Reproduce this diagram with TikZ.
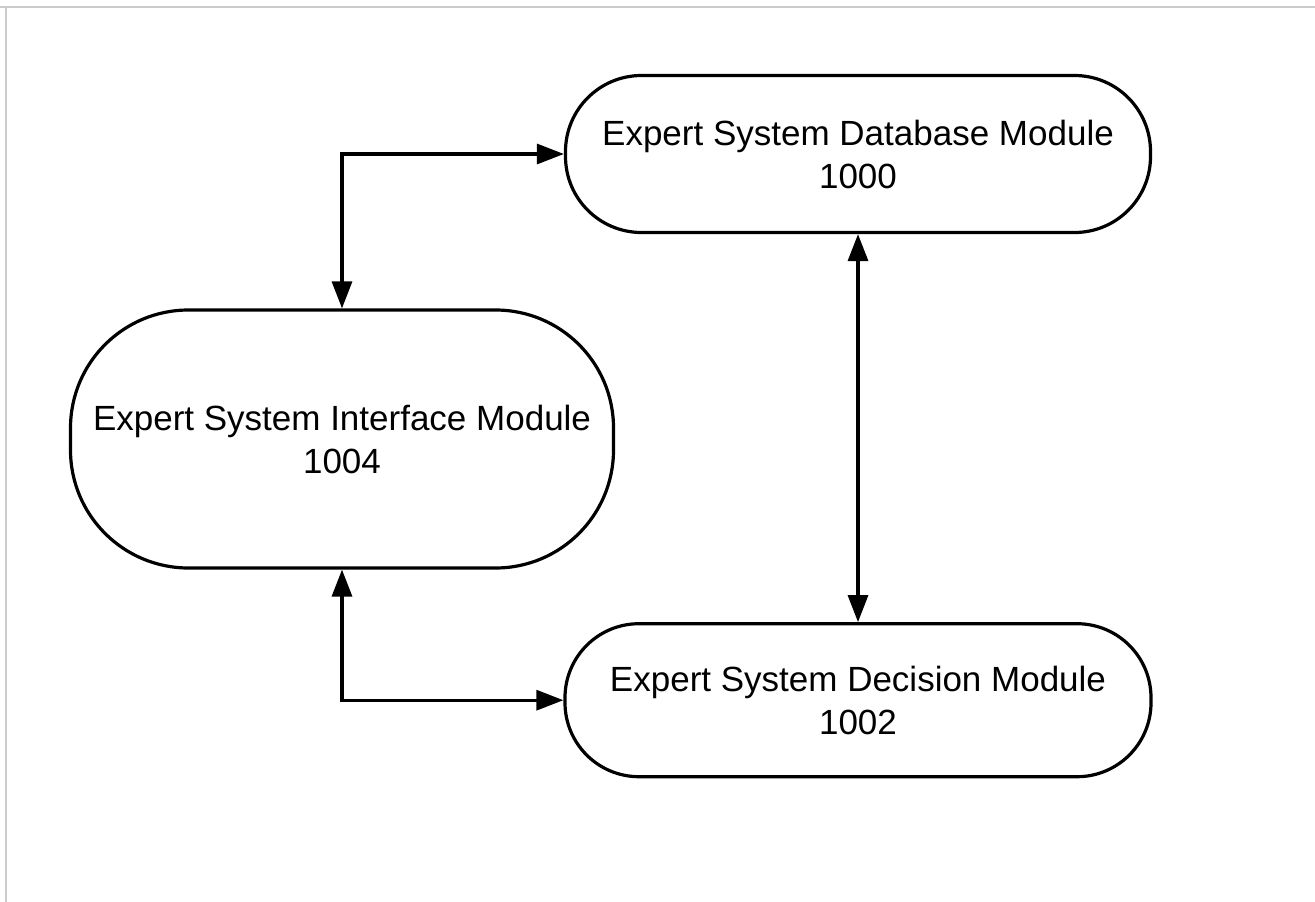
\documentclass[tikz,border=0pt]{standalone}
\usepackage{fontspec}
\setmainfont{Liberation Sans}
\usepackage{tikz}
\usetikzlibrary{positioning, arrows.meta}
\tikzset{
    module/.style={rectangle, draw=black, fill=white, line width=3.2pt, inner sep=0pt, align=center, font=\fontsize{35}{43}\selectfont},
    link/.style={<->, line width=3.2pt},
    >={Triangle[length=27pt, width=20pt]},
}

\begin{document}
\begin{tikzpicture}[x=1pt, y=-1pt]
        \useasboundingbox (0,0) rectangle (1315,902);
        \draw[black!20, line width=2pt] (0,7) -- (1315,7);
        \draw[black!20, line width=2pt] (6,7) -- (6,902);
        \node [module, minimum width=585pt, minimum height=157pt, rounded corners=76pt] (db) at (858,154) {Expert System Database Module\\1000};
        \node [module, minimum width=586pt, minimum height=153pt, rounded corners=74pt] (dec) [below=388pt of db] {Expert System Decision Module\\1002};
        \node [module, minimum width=543pt, minimum height=258pt, rounded corners=118pt] (iface) at (342,439) {Expert System Interface Module\\1004};
        \draw[link] (iface.north) |- (db.west);
        \draw[link] (iface.south) |- (dec.west);
        \draw[link] (db.south) -- (dec.north);
    \end{tikzpicture}
\end{document}
